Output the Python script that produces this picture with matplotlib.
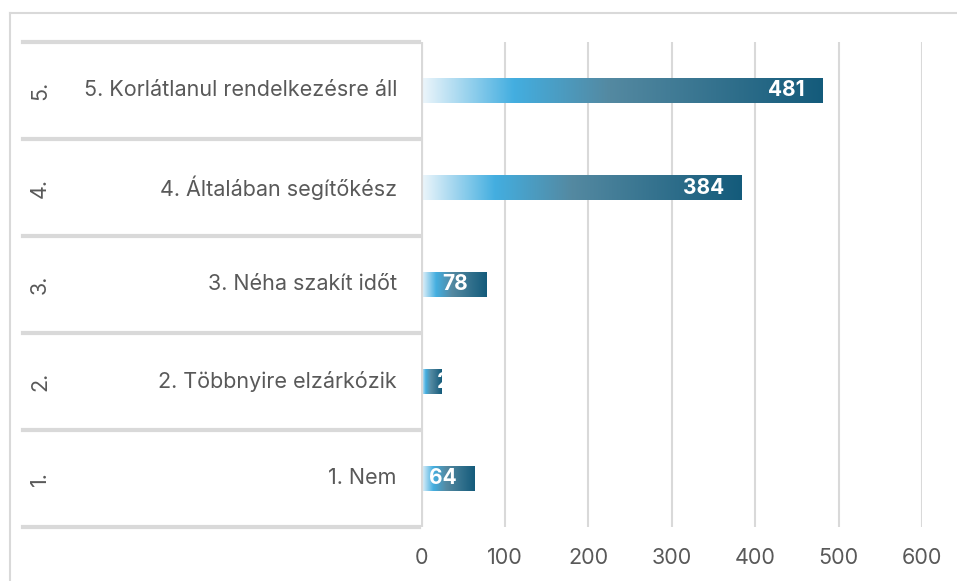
import matplotlib
matplotlib.use("Agg")
import matplotlib.pyplot as plt
import numpy as np
from matplotlib.colors import LinearSegmentedColormap
from matplotlib.lines import Line2D

# ---- data ----
outer_labels = ["1.", "2.", "3.", "4.", "5."]
categories = ["1. Nem", "2. Többnyire elzárkózik", "3. Néha szakít időt",
              "4. Általában segítőkész", "5. Korlátlanul rendelkezésre áll"]
values = [64, 25, 78, 384, 481]
xticks = [0, 100, 200, 300, 400, 500, 600]

W, H = 957, 581
DPI = 100
plt.rcParams['font.family'] = ['Inter', 'DejaVu Sans']
fig = plt.figure(figsize=(W / DPI, H / DPI), dpi=DPI)

# axes placement in pixels
x0, x1 = 421, 922
y0, y1 = 42, 527
ax = fig.add_axes([x0 / W, 1 - y1 / H, (x1 - x0) / W, (y1 - y0) / H])

grid_col = "#d9d9d9"
text_col = "#595959"
fs = 15.5

cmap = LinearSegmentedColormap.from_list(
    "grad", [(0.0, "#eef6fb"), (0.23, "#43aee0"), (0.47, "#5489a1"), (1.0, "#145b7b")])
grad = np.linspace(0, 1, 256).reshape(1, -1)

ypos = np.arange(len(values))
bar_h = 0.25
bars = ax.barh(ypos, values, height=bar_h, color="none", edgecolor="none", zorder=3)
for b, v, y in zip(bars, values, ypos):
    im = ax.imshow(grad, extent=[0, v, y - bar_h / 2, y + bar_h / 2],
                   aspect="auto", cmap=cmap, zorder=3, interpolation="bilinear")
    im.set_clip_path(b)
    if v >= 40:
        t = ax.annotate(str(v), xy=(v, y), xytext=(-18 * 0.72, 0), textcoords="offset points",
                        ha="right", va="center", color="white", fontsize=15,
                        fontweight="bold", zorder=5)
    else:
        t = ax.annotate(str(v), xy=(0, y), xytext=(16 * 0.72, 0), textcoords="offset points",
                        ha="left", va="center", color="white", fontsize=15,
                        fontweight="bold", zorder=5)
        t.set_clip_path(b)

ax.set_xlim(0, 600)
ax.set_ylim(-0.5, len(values) - 0.5)
ax.set_xticks(xticks)
ax.set_yticks([])
ax.xaxis.grid(True, color=grid_col, linewidth=1.5, zorder=0)
ax.set_axisbelow(True)
for s in ax.spines.values():
    s.set_visible(False)
ax.tick_params(axis="x", length=0, pad=15, labelsize=fs, labelcolor=text_col)

# vertical axis line
ax.axvline(0, color=grid_col, linewidth=3, zorder=4)

# multi-level category axis
def ax_x(px):
    return (px - x0) / (x1 - x0)
tr = ax.get_yaxis_transform()
for k in range(len(values) + 1):
    yb = k - 0.5
    ax.add_line(Line2D([ax_x(23), ax_x(419)], [yb, yb], transform=tr, color=grid_col,
                       linewidth=3, clip_on=False, zorder=2))
for y, lab, o in zip(ypos, categories, outer_labels):
    ax.text(ax_x(397), y, lab, transform=tr, ha="right", va="center",
            fontsize=fs, color=text_col)
    ax.text(ax_x(40), y, o, transform=tr, ha="center", va="center",
            fontsize=fs, color=text_col, rotation=90)

# outer chart border (partly cropped)
fig.add_artist(Line2D([10 / W, 10 / W], [1 - 13 / H, 0], transform=fig.transFigure,
                      color=grid_col, linewidth=1.5))
fig.add_artist(Line2D([10 / W, 1], [1 - 13 / H, 1 - 13 / H], transform=fig.transFigure,
                      color=grid_col, linewidth=1.5))

fig.savefig("out.png", dpi=DPI)
